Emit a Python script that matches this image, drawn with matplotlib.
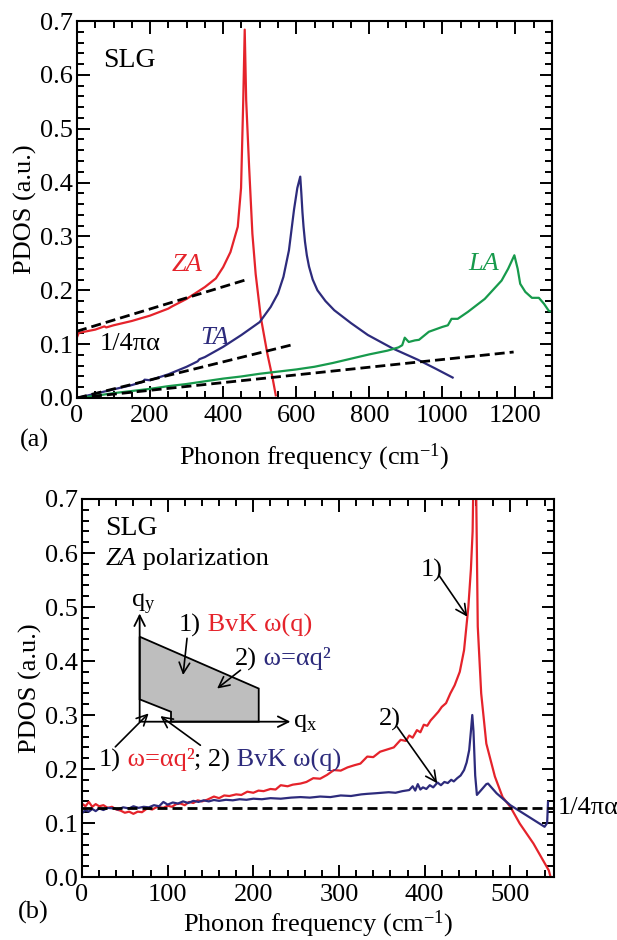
import matplotlib
matplotlib.use('Agg')
import matplotlib.pyplot as plt
from matplotlib.ticker import MultipleLocator, FormatStrFormatter
from matplotlib.offsetbox import TextArea, HPacker, AnnotationBbox
from matplotlib.patches import Polygon

plt.rcParams['font.family'] = ['Liberation Serif', 'DejaVu Serif']
plt.rcParams['mathtext.fontset'] = 'custom'
plt.rcParams['mathtext.rm'] = 'Liberation Serif'
plt.rcParams['mathtext.it'] = 'Liberation Serif:italic'
FS = 19
plt.rcParams['font.size'] = FS

RED = '#E5232B'
NAVY = '#2D2B7C'
GREEN = '#179A4C'

# ---------------- panel (a) data ----------------
za_x = [0, 5, 20, 50, 75, 80, 100, 150, 200, 250, 260, 300, 350, 380, 400, 420, 440, 449, 455,
        459, 463, 471, 480, 489, 503, 521, 535, 544]
za_y = [0.113, 0.121, 0.123, 0.127, 0.133, 0.131, 0.135, 0.143, 0.153, 0.166, 0.170, 0.184, 0.206,
        0.222, 0.243, 0.271, 0.318, 0.39, 0.553, 0.684, 0.553, 0.43, 0.305, 0.23,
        0.15, 0.082, 0.038, 0.005]

ta_x = [0, 50, 100, 150, 180, 185, 200, 250, 300, 330, 335, 350, 400, 450, 500, 530, 550, 565,
        580, 594, 603, 611, 614, 617, 620, 624, 629, 635, 645, 658, 680, 704, 750, 796, 864,
        933, 980, 1028]
ta_y = [0.0, 0.008, 0.016, 0.024, 0.030, 0.034, 0.033, 0.044, 0.058, 0.068, 0.072, 0.076, 0.095,
        0.117, 0.141, 0.169, 0.194, 0.225, 0.274, 0.35, 0.39, 0.411, 0.38, 0.345, 0.318, 0.29,
        0.265, 0.244, 0.22, 0.20, 0.18, 0.163, 0.139, 0.117, 0.092, 0.071, 0.055, 0.038]

la_x = [0, 50, 100, 150, 200, 250, 300, 350, 400, 450, 500, 550, 600, 650, 700, 750, 800, 850,
        880, 890, 897, 908, 925, 936, 963, 1000, 1015, 1025, 1042, 1070, 1116, 1162, 1180, 1197,
        1206, 1213, 1227, 1245, 1264, 1278, 1291, 1300]
la_y = [0.0, 0.004, 0.009, 0.013, 0.017, 0.022, 0.026, 0.031, 0.036, 0.040, 0.045, 0.049, 0.053,
        0.058, 0.065, 0.073, 0.081, 0.088, 0.094, 0.098, 0.112, 0.104, 0.107, 0.108, 0.123, 0.132,
        0.135, 0.147, 0.147, 0.160, 0.184, 0.218, 0.240, 0.265, 0.24, 0.212, 0.197, 0.186, 0.186,
        0.175, 0.162, 0.160]

za_fit_x = [0, 465]
za_fit_y = [0.124, 0.220]
ta_fit_x = [0, 590]
ta_fit_y = [0.0, 0.099]
la_fit_x = [0, 1195]
la_fit_y = [0.0, 0.0854]

# ---------------- panel (b) data ----------------
bvk_x = [0, 4, 8, 12, 16, 20, 25, 30, 35, 40, 45, 50, 55, 60, 65, 70, 76, 82, 88, 95, 100, 105,
         110, 115, 120, 125, 130, 135, 140, 146, 154, 160, 166, 172, 180, 186, 193, 200, 206, 212,
         220, 226, 232, 240, 246, 255, 262, 270, 278, 286, 294, 302, 310, 318, 325, 333, 340, 348,
         356, 364, 372, 378, 382, 386, 391, 395, 399, 403, 407, 411, 416, 420, 425, 430, 435, 441,
         446, 451, 454, 456, 457.5, 459.5, 461, 462, 466, 472, 482, 491, 500, 511, 527, 545, 547]
bvk_y = [0.136, 0.131, 0.139, 0.130, 0.135, 0.131, 0.133, 0.128, 0.130, 0.125, 0.123, 0.119, 0.121,
         0.117, 0.121, 0.120, 0.127, 0.125, 0.130, 0.128, 0.132, 0.130, 0.135, 0.136, 0.133, 0.139,
         0.137, 0.142, 0.140, 0.143, 0.149, 0.146, 0.151, 0.150, 0.153, 0.152, 0.158, 0.156, 0.160,
         0.159, 0.163, 0.162, 0.170, 0.168, 0.171, 0.173, 0.176, 0.183, 0.182, 0.189, 0.198, 0.197,
         0.203, 0.207, 0.210, 0.223, 0.222, 0.232, 0.236, 0.240, 0.254, 0.252, 0.262, 0.258, 0.272,
         0.268, 0.282, 0.280, 0.290, 0.297, 0.306, 0.315, 0.322, 0.340, 0.355, 0.380, 0.420, 0.500,
         0.570, 0.640, 0.800, 0.800, 0.600, 0.464, 0.340, 0.247, 0.186, 0.148, 0.130, 0.099, 0.062,
         0.012, 0.0]

quad_x = [0, 4, 8, 12, 16, 20, 25, 30, 37, 42, 48, 55, 60, 66, 72, 78, 84, 90, 95, 100, 106, 112,
          118, 124, 130, 136, 142, 148, 154, 160, 168, 176, 184, 192, 200, 210, 220, 232, 244, 255,
          266, 278, 290, 302, 314, 326, 333, 342, 350, 358, 366, 374, 382, 386, 389, 392, 395, 398,
          402, 406, 410, 415, 419, 423, 427, 431, 434, 438, 442, 446, 449, 452, 454, 455.6, 457,
          459, 461, 466, 472, 474, 484, 500, 519, 540, 543, 544]
quad_y = [0.118, 0.124, 0.121, 0.126, 0.122, 0.127, 0.124, 0.128, 0.127, 0.125, 0.129, 0.127, 0.131,
          0.128, 0.130, 0.129, 0.133, 0.131, 0.139, 0.134, 0.138, 0.136, 0.140, 0.137, 0.141, 0.139,
          0.142, 0.140, 0.1426, 0.141, 0.143, 0.142, 0.144, 0.143, 0.145, 0.144, 0.146, 0.145,
          0.147, 0.148, 0.147, 0.149, 0.148, 0.151, 0.150, 0.153, 0.154, 0.155, 0.156, 0.157,
          0.156, 0.159, 0.161, 0.168, 0.160, 0.172, 0.162, 0.166, 0.163, 0.170, 0.166, 0.175,
          0.170, 0.176, 0.174, 0.180, 0.177, 0.183, 0.188, 0.198, 0.212, 0.235, 0.27, 0.30, 0.27,
          0.188, 0.152, 0.161, 0.172, 0.173, 0.155, 0.133, 0.114, 0.093, 0.100, 0.139]

limit_level = 0.128

# inset schematic (Brillouin-zone sketch) in panel-(b) data units
inset_origin = (67.3, 0.2876)
inset_qy_tip = (67.3, 0.488)
inset_qx_tip = (243.3, 0.2876)
inset_poly = [(67.3, 0.445), (206.3, 0.349), (206.3, 0.2876), (103.9, 0.2876), (103.9, 0.306),
              (67.3, 0.329)]

fig = plt.figure(figsize=(6.17, 9.4), dpi=100)
ax1 = fig.add_axes([77 / 617, 1 - 398 / 940, 475 / 617, 377 / 940])
ax2 = fig.add_axes([82 / 617, 1 - 877 / 940, 472 / 617, 378 / 940])


def style_axes(ax, xmaj, xmin):
    for s in ax.spines.values():
        s.set_linewidth(1.5)
    ax.xaxis.set_major_locator(MultipleLocator(xmaj))
    ax.xaxis.set_minor_locator(MultipleLocator(xmin))
    ax.yaxis.set_major_locator(MultipleLocator(0.1))
    ax.yaxis.set_minor_locator(MultipleLocator(0.02))
    ax.tick_params(which='both', direction='in', top=True, right=True, width=1.4,
                   labelsize=FS)
    ax.tick_params(which='major', length=9)
    ax.tick_params(which='minor', length=5)
    ax.tick_params(axis='x', pad=5)
    ax.tick_params(axis='y', pad=3)
    ax.set_ylabel('PDOS (a.u.)', fontsize=FS)
    ax.yaxis.set_label_coords(-0.084, 0.5)
    ax.set_xlabel('Phonon frequency (cm$^{-1}$)', fontsize=FS)
    ax.yaxis.set_major_formatter(FormatStrFormatter('%.1f'))


def multitext(ax, x, y, parts, size=FS):
    kids = []
    for txt, col, sty in parts:
        kids.append(TextArea(txt, textprops=dict(color=col, fontsize=size, style=sty,
                                                 family=['Liberation Serif', 'DejaVu Serif'])))
    box = HPacker(children=kids, align='baseline', pad=0, sep=0)
    ab = AnnotationBbox(box, (x, y), xycoords='data', box_alignment=(0, 0), frameon=False,
                        pad=0, annotation_clip=False)
    ax.add_artist(ab)


def arrow(ax, tail, head, lw=1.2):
    ax.annotate('', xy=head, xytext=tail,
                arrowprops=dict(arrowstyle='->', color='black', lw=lw, shrinkA=0, shrinkB=0))


# ---------------- panel (a) ----------------
dash = (0, (3.6, 1.8))
ax1.plot(za_x, za_y, color=RED, lw=1.6)
ax1.plot(ta_x, ta_y, color=NAVY, lw=1.6)
ax1.plot(la_x, la_y, color=GREEN, lw=1.6)
ax1.plot(za_fit_x, za_fit_y, color='black', lw=2, ls=dash)
ax1.plot(ta_fit_x, ta_fit_y, color='black', lw=2, ls=dash)
ax1.plot(la_fit_x, la_fit_y, color='black', lw=2, ls=dash)
ax1.set_xlim(0, 1300)
ax1.set_ylim(0, 0.7)
style_axes(ax1, 200, 50)
ax1.xaxis.set_label_coords(0.5, -0.115)

ax1.text(71, 0.615, 'SLG', fontsize=20, va='baseline')
ax1.text(260, 0.236, 'ZA', color=RED, style='italic', va='baseline')
ax1.text(338, 0.101, 'TA', color=NAVY, style='italic', va='baseline')
ax1.text(1070, 0.237, 'LA', color=GREEN, style='italic', va='baseline')
ax1.text(62, 0.0885, '1/4\u03c0\u03b1', va='baseline')
fig.text(20 / 617, 1 - 440 / 940, '(a)', va='center', ha='left')

# ---------------- panel (b) ----------------
ax2.plot(bvk_x, bvk_y, color=RED, lw=1.6)
ax2.plot(quad_x, quad_y, color=NAVY, lw=1.6)
ax2.axhline(limit_level, color='black', lw=2, ls=dash)
ax2.set_xlim(0, 551)
ax2.set_ylim(0, 0.7)
style_axes(ax2, 100, 20)
ax2.xaxis.set_label_coords(0.5, -0.085)
ax2.text(1.008, limit_level, '1/4\u03c0\u03b1', transform=ax2.get_yaxis_transform(),
         va='center', ha='left', clip_on=False)

ax2.text(27.3, 0.634, 'SLG', fontsize=20, va='baseline')
multitext(ax2, 27.3, 0.569, [('ZA', 'black', 'italic'), (' polarization', 'black', 'normal')])

# schematic
ax2.add_patch(Polygon(inset_poly, closed=True, facecolor='#BEBEBE', edgecolor='black', lw=1.3))
arrow(ax2, inset_origin, inset_qy_tip, lw=1.3)
arrow(ax2, inset_origin, inset_qx_tip, lw=1.3)
ax2.text(57, 0.505, 'q$_\\mathrm{y}$', va='center', ha='left')
ax2.text(246, 0.2846, 'q$_\\mathrm{x}$', va='center', ha='left')

multitext(ax2, 112.9, 0.445, [('1)', 'black', 'normal'), (' BvK \u03c9(q)', RED, 'normal')])
multitext(ax2, 179, 0.382, [('2)', 'black', 'normal'), (' \u03c9=\u03b1q\u00b2', NAVY, 'normal')])
multitext(ax2, 19.4, 0.195, [('1)', 'black', 'normal'), (' \u03c9=\u03b1q\u00b2', RED, 'normal'),
                             ('; 2)', 'black', 'normal'), (' BvK \u03c9(q)', NAVY, 'normal')])
arrow(ax2, (122.6, 0.442), (118, 0.374))
arrow(ax2, (185, 0.383), (157.7, 0.349))
arrow(ax2, (38.9, 0.241), (77.8, 0.303))
arrow(ax2, (138.2, 0.244), (91.5, 0.298))

ax2.text(395, 0.556, '1)', va='baseline')
arrow(ax2, (416.6, 0.559), (449.8, 0.482))
ax2.text(346.5, 0.281, '2)', va='baseline')
arrow(ax2, (368, 0.278), (414.7, 0.1735))

fig.text(18 / 617, 1 - 912 / 940, '(b)', va='center', ha='left')

fig.savefig('out.png', dpi=100)
